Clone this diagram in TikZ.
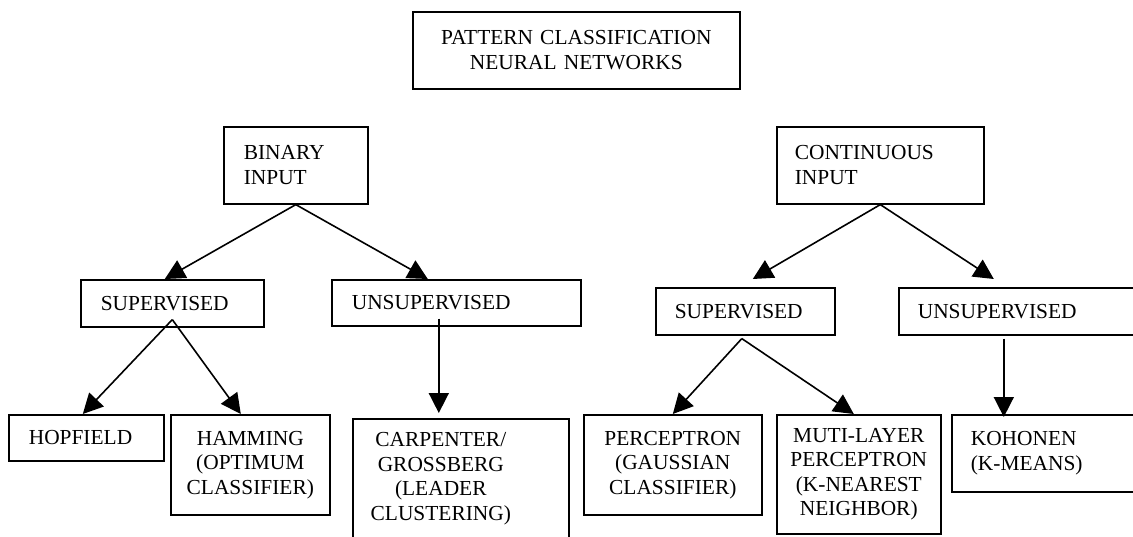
\documentclass[tikz,border=0pt]{standalone}
\usepackage{fontspec}
\setmainfont{Liberation Serif}
\usetikzlibrary{arrows.meta,positioning}

\tikzset{
  box/.style={draw, rectangle, anchor=north west, inner ysep=0pt,
    font=\fontsize{10.7}{12.3}\selectfont},
  lbox/.style={box, align=left, inner xsep=10pt},
  cbox/.style={box, align=center, inner xsep=0pt},
}

\begin{document}
\begin{tikzpicture}[x=0.5pt, y=-0.5pt, line width=0.8pt, >={Triangle[length=10pt,width=10pt]}]
  \clip (0,0) rectangle (1133,536);
  \node[cbox, text width=163.5pt, minimum height=38.5pt] (title) at (412,11) {PATTERN CLASSIFICATION\\NEURAL NETWORKS};
  \node[lbox, text width=52pt, minimum height=38.5pt] (binary) at (223,126) {BINARY\\INPUT};
  \node[lbox, inner xsep=9pt, text width=85.5pt, minimum height=38.5pt] (continuous) at (776,126) {CONTINUOUS\\INPUT};
  \node[lbox, text width=71.5pt, minimum height=23.5pt] (supL) at (80,279) {SUPERVISED};
  \node[lbox, text width=104.5pt, minimum height=23pt] (unsupL) at (331,279) {UNSUPERVISED};
  \node[lbox, inner xsep=9.5pt, text width=70.5pt, minimum height=23.5pt] (supR) at (655,287) {SUPERVISED};
  \node[lbox, inner xsep=9.5pt, text width=102pt, minimum height=23.5pt] (unsupR) at (898,287) {UNSUPERVISED};
  \node[lbox, text width=57.5pt, minimum height=23pt] (hopfield) at (8,414) {HOPFIELD};
  \node[cbox, text width=79.5pt, minimum height=50pt] (hamming) at (170,414) {HAMMING\\(OPTIMUM\\CLASSIFIER)};
  \node[box, inner xsep=0pt, minimum height=60pt] (carpenter) at (352,418) {\parbox{88pt}{\centering CARPENTER/\\GROSSBERG\\(LEADER\\CLUSTERING)}\kern20pt};
  \node[cbox, text width=89pt, minimum height=50pt] (perceptron) at (583,414) {PERCEPTRON\\(GAUSSIAN\\CLASSIFIER)};
  \node[cbox, text width=82pt, minimum height=59.5pt] (muti) at (776,414) {MUTI-LAYER\\PERCEPTRON\\(K-NEAREST\\NEIGHBOR)};
  \node[lbox, inner xsep=9.5pt, text width=75.5pt, minimum height=38.5pt] (kohonen) at (951,414) {KOHONEN\\(K-MEANS)};
  \draw[->] (binary.south) -- ([xshift=-3.75pt]supL.north);
  \draw[->] (binary.south) -- ([xshift=-14.25pt]unsupL.north);
  \draw[->] (continuous.south) -- ([xshift=3.75pt,yshift=4pt]supR.north);
  \draw[->] (continuous.south) -- ([xshift=-13pt,yshift=4pt]unsupR.north);
  \draw[->] ([yshift=4pt]supL.south) -- ([xshift=-1.75pt]hopfield.north);
  \draw[->] ([yshift=4pt]supL.south) -- ([xshift=-4.75pt]hamming.north);
  \draw[->] ([xshift=-8.75pt,yshift=4pt]unsupL.south) -- ([xshift=-11pt,yshift=2.5pt]carpenter.north);
  \draw[->] ([xshift=-1.75pt,yshift=-1.5pt]supR.south) -- (perceptron.north);
  \draw[->] ([xshift=-1.75pt,yshift=-1.5pt]supR.south) -- ([xshift=-2.5pt]muti.north);
  \draw[->] ([xshift=-8pt,yshift=-1.5pt]unsupR.south) -- ([xshift=-8pt,yshift=-1.5pt]unsupR.south |- kohonen.north);
\end{tikzpicture}
\end{document}
